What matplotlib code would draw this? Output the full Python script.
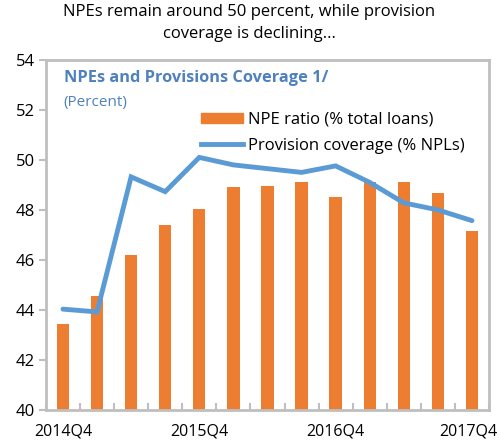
import numpy as np
import matplotlib.pyplot as plt
import matplotlib.transforms as mtransforms
from matplotlib.patches import Patch
from matplotlib.lines import Line2D

plt.rcParams['font.family'] = ['Open Sans', 'DejaVu Sans']

quarters = ["2014Q4", "2015Q1", "2015Q2", "2015Q3", "2015Q4", "2016Q1", "2016Q2",
            "2016Q3", "2016Q4", "2017Q1", "2017Q2", "2017Q3", "2017Q4"]
npe_ratio = [43.45, 44.55, 46.2, 47.4, 48.05, 48.93, 48.95, 49.1, 48.53, 49.13, 49.1, 48.67, 47.16]
coverage = [44.03, 43.92, 49.32, 48.73, 50.1, 49.8, 49.65, 49.5, 49.76, 49.1, 48.28, 48.0, 47.57]
shown_labels = ["2014Q4", "2015Q4", "2016Q4", "2017Q4"]

orange = "#ED7D31"
blue = "#5B9BD5"
title_blue = "#4F81BD"
grey = "#BFBFBF"

fig = plt.figure(figsize=(4.99, 4.47), dpi=100)
ax = fig.add_axes([0.092, 0.083, 0.888, 0.783])

x = np.arange(len(quarters))
ax.bar(x, npe_ratio, width=0.36, color=orange, zorder=2)
ax.plot(x, coverage, color=blue, lw=3.5, zorder=3, solid_capstyle='round', solid_joinstyle='miter')

ax.set_xlim(-0.5, len(quarters) - 0.5)
ax.set_ylim(40, 54)
ax.set_yticks(np.arange(40, 55, 2))
ax.tick_params(axis='y', direction='out', length=5, width=1.5, color=grey, labelsize=12, pad=3)

# category boundary ticks (inward), labels at selected quarters
ax.set_xticks(np.arange(-0.5, len(quarters) + 0.5, 1), minor=True)
ax.tick_params(axis='x', which='minor', direction='in', length=5, width=1.5, color=grey)
ax.set_xticks([quarters.index(q) for q in shown_labels])
ax.set_xticklabels(shown_labels)
ax.tick_params(axis='x', which='major', length=0, labelsize=11.5, pad=10)
last = ax.get_xticklabels()[-1]
last.set_transform(last.get_transform() + mtransforms.ScaledTranslation(-4 / 100, 0, fig.dpi_scale_trans))

for s in ax.spines.values():
    s.set_color(grey)
    s.set_linewidth(2)

fig.text(0.5, 0.99, "NPEs remain around 50 percent, while provision\ncoverage is declining...",
         ha='center', va='top', fontsize=12, linespacing=1.45)

ax.text(0.04, 0.949, "NPEs and Provisions Coverage 1/", transform=ax.transAxes,
        color=title_blue, fontsize=11.8, fontweight='bold', va='center')
ax.text(0.04, 0.877, "(Percent)", transform=ax.transAxes,
        color=title_blue, fontsize=11, va='center')

handles = [Patch(color=orange), Line2D([0], [0], color=blue, lw=3.5)]
ax.legend(handles, ["NPE ratio (% total loans)", "Provision coverage (% NPLs)"],
          loc='upper left', bbox_to_anchor=(0.35, 0.852), frameon=False, fontsize=12,
          handlelength=2.5, handleheight=0.6, handletextpad=0.3, labelspacing=0.62,
          borderaxespad=0, borderpad=0)

fig.savefig("out.png", dpi=100)
